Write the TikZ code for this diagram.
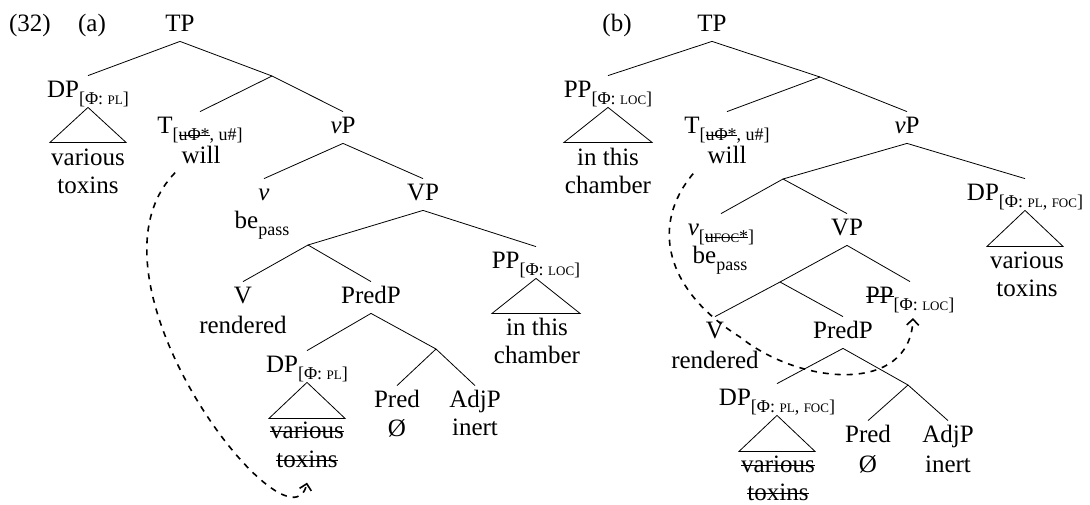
\documentclass[tikz,border=0pt]{standalone}
\usepackage{fontspec}
\setmainfont{Liberation Serif}
\usetikzlibrary{arrows.meta}

\newsavebox{\strikebox}
\newcommand{\strike}[1]{\sbox{\strikebox}{#1}\rlap{\raisebox{0.25em}{\rule{\wd\strikebox}{0.45pt}}}\usebox{\strikebox}}
\newcommand{\feat}[1]{\raisebox{-3.5pt}{\fontsize{9}{9}\selectfont #1}}
\newcommand{\smc}[1]{{\fontsize{6.5}{6.5}\selectfont #1}}

\begin{document}
\begin{tikzpicture}[x=0.5pt,y=-0.5pt,
  cat/.style={anchor=base,inner sep=3pt,text height=7.5pt,text depth=2pt},
  word/.style={anchor=base,inner sep=0pt},
  move/.style={dashed,line width=0.8pt,-{Straight Barb[length=3pt,width=6pt]}}]
\fontsize{12.5}{15}\selectfont
  \useasboundingbox (0,0) rectangle (1090,504);

  \node[word] (exnum) at (30,31) {(32)};
  \node[word] (parta) at (92,31) {(a)};
  \node[word] (partb) at (617,31) {(b)};

  % (a)
  \node[cat] (TPa) at (180,31) {TP};
  \coordinate (TbarA) at (272,76);
  \node[cat] (DPa) at (88,97) {DP\feat{[Φ: \smc{PL}]}};
  \node[word] (variousA) at (88,165) {various};
  \node[word] (toxinsA) at (88,193) {toxins};
  \node[cat] (Ta) at (200,133) {T\feat{[\strike{uΦ*}, u\#]}};
  \node[word] (willA) at (201,163) {will};
  \node[cat] (vPa) at (343,133) {\textit{v}P};
  \node[cat] (vA) at (264,200) {\textit{v}};
  \node[word] (beA) at (262,228) {be\feat{pass}};
  \node[cat] (VPa) at (423,200) {VP};
  \coordinate (VbarA) at (308,245);
  \node[cat] (PPa) at (536,268) {PP\feat{[Φ: \smc{LOC}]}};
  \node[word] (inthisA) at (537,335) {in this};
  \node[word] (chamberA) at (537,363) {chamber};
  \node[cat] (VA) at (243,303) {V};
  \node[word] (renderedA) at (243,333) {rendered};
  \node[cat] (PredPa) at (371,303) {PredP};
  \coordinate (PredbarA) at (436,349);
  \node[cat] (DPlowA) at (307,372) {DP\feat{[Φ: \smc{PL}]}};
  \node[word] (variousB) at (307,438) {\strike{various}};
  \node[word] (toxinsB) at (307,467) {\strike{toxins}};
  \node[cat] (PredA) at (397,407) {Pred};
  \node[word] (nullA) at (397,436) {Ø};
  \node[cat] (AdjPa) at (475,407) {AdjP};
  \node[word] (inertA) at (475,435) {inert};

  \draw (TPa.south) -- (DPa.north);
  \draw (TPa.south) -- (TbarA) -- (vPa.north);
  \draw (TbarA) -- (Ta.north);
  \draw (vPa.south) -- (vA.north);
  \draw (vPa.south) -- (VPa.north);
  \draw (VPa.south) -- (VbarA);
  \draw (VPa.south) -- (PPa.north);
  \draw (VbarA) -- (VA.north);
  \draw (VbarA) -- (PredPa.north);
  \draw (PredPa.south) -- (DPlowA.north);
  \draw (PredPa.south) -- (PredbarA);
  \draw (PredbarA) -- (PredA.north);
  \draw (PredbarA) -- (AdjPa.north);
  \draw (DPa.south) -- ++(-38,35) -- ++(76,0) -- cycle;
  \draw (PPa.south) -- ++(-44,35) -- ++(88,0) -- cycle;
  \draw (DPlowA.south) -- ++(-38,36) -- ++(76,0) -- cycle;

  \draw[move] ([xshift=-3pt,yshift=-4.5pt]willA.south west)
    .. controls (70,280) and (290,560) .. ([yshift=-7.5pt]toxinsB.south);

  % (b)
  \node[cat] (TPb) at (712,31) {TP};
  \coordinate (TbarB) at (820,77);
  \node[cat] (PPb) at (608,97) {PP\feat{[Φ: \smc{LOC}]}};
  \node[word] (inthisB) at (608,165) {in this};
  \node[word] (chamberB) at (608,193) {chamber};
  \node[cat] (Tb) at (727,133) {T\feat{[\strike{uΦ*}, u\#]}};
  \node[word] (willB) at (727,163) {will};
  \node[cat] (vPb) at (907,133) {\textit{v}P};
  \coordinate (vbarB) at (783,179);
  \node[cat] (DPb) at (1025,200) {DP\feat{[Φ: \smc{PL}, \smc{FOC}]}};
  \node[word] (variousC) at (1027,268) {various};
  \node[word] (toxinsC) at (1027,296) {toxins};
  \node[cat] (vB) at (721,235) {\textit{v}\feat{[\strike{u\smc{FOC}*}]}};
  \node[word] (beB) at (720,263) {be\feat{pass}};
  \node[cat] (VPb) at (847,235) {VP};
  \coordinate (VbarB) at (780,282);
  \node[cat] (PPc) at (910,303) {\strike{PP}\feat{[Φ: \smc{LOC}]}};
  \node[cat] (VB) at (715,338) {V};
  \node[word] (renderedB) at (715,368) {rendered};
  \node[cat] (PredPb) at (843,338) {PredP};
  \coordinate (PredbarB) at (908,385);
  \node[cat] (DPlowB) at (777,405) {DP\feat{[Φ: \smc{PL}, \smc{FOC}]}};
  \node[word] (variousD) at (778,472) {\strike{various}};
  \node[word] (toxinsD) at (778,500) {\strike{toxins}};
  \node[cat] (PredB) at (868,442) {Pred};
  \node[word] (nullB) at (868,472) {Ø};
  \node[cat] (AdjPb) at (948,442) {AdjP};
  \node[word] (inertB) at (948,472) {inert};

  \draw (TPb.south) -- (PPb.north);
  \draw (TPb.south) -- (TbarB) -- (vPb.north);
  \draw (TbarB) -- (Tb.north);
  \draw (vPb.south) -- (vbarB);
  \draw (vPb.south) -- (DPb.north);
  \draw (vbarB) -- (vB.north);
  \draw (vbarB) -- (VPb.north);
  \draw (VPb.south) -- (VbarB);
  \draw (VPb.south) -- (PPc.north);
  \draw (VbarB) -- (VB.north);
  \draw (VbarB) -- (PredPb.north);
  \draw (PredPb.south) -- (DPlowB.north);
  \draw (PredPb.south) -- (PredbarB);
  \draw (PredbarB) -- (PredB.north);
  \draw (PredbarB) -- (AdjPb.north);
  \draw (PPb.south) -- ++(-44,35) -- ++(88,0) -- cycle;
  \draw (DPb.south) -- ++(-38,36) -- ++(76,0) -- cycle;
  \draw (DPlowB.south) -- ++(-38,36) -- ++(76,0) -- cycle;

  \draw[move] ([xshift=-7pt,yshift=-5pt]willB.south west)
    .. controls (650,225) and (665,290) .. (740,337)
    .. controls (800,385) and (910,395) .. ([shift={(1.5pt,-7.5pt)}]PPc.base);
\end{tikzpicture}
\end{document}
